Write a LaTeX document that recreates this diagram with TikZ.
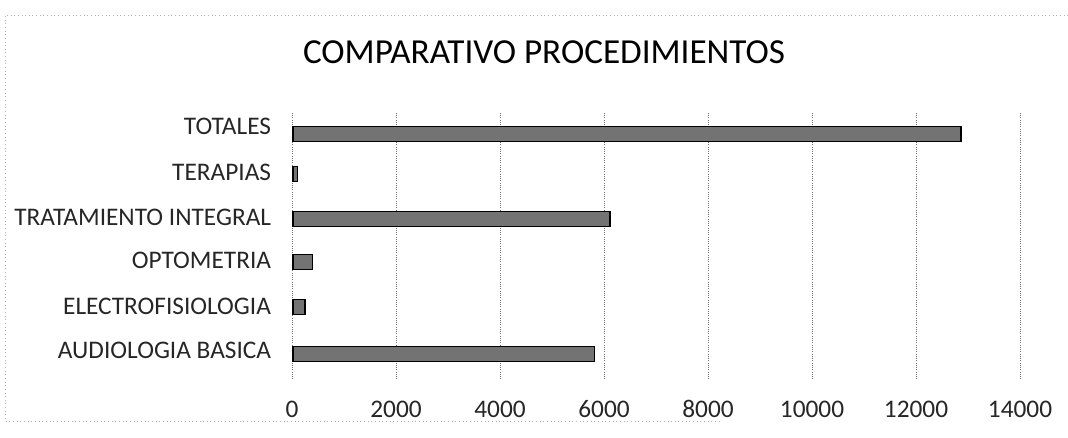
\documentclass[tikz,border=0pt]{standalone}
\usepackage{fontspec}
\setmainfont{Carlito}
\usepackage{xcolor}
\usepackage{tikz}

\tikzset{barra/.style={draw=black,thick,fill=black!55},
  rejilla/.style={black!55,densely dotted,line width=0.6pt},
  marco/.style={gray!60,dotted,line width=0.6pt},
  categoria/.style={anchor=east,font=\fontsize{18}{20}\selectfont,text=black!85},
  marca/.style={font=\fontsize{18}{20}\selectfont,text=black!85}}

\begin{document}
\begin{tikzpicture}[x=0.025cm,y=-0.025cm]
   \useasboundingbox (0,0) rectangle (1068,438);
   % marco punteado del grafico
   \draw[marco] (1068,15) -- (5,15) -- (5,421) -- (720,421);
   \node (titulo) at (544,52) {\fontsize{25}{28}\selectfont COMPARATIVO PROCEDIMIENTOS};
   % lineas de la rejilla y valores del eje
   \foreach \k/\t in {0/0,1/2000,2/4000,3/6000,4/8000,5/10000,6/12000,7/14000}{
     \draw[rejilla] ({292+\k*104},113) -- ({292+\k*104},380);
     \node[marca] (eje\k) at ({292+\k*104},409) {\t};
   }
   % barras por categoria
   \foreach \n/\y/\b/\v/\c in {tot/126/134/12865/TOTALES,ter/172/174/110/TERAPIAS,tra/217/219/6115/TRATAMIENTO INTEGRAL,opt/260/262/390/OPTOMETRIA,ele/306/307/250/ELECTROFISIOLOGIA,aud/350/354/5810/AUDIOLOGIA BASICA}{
     \node[categoria] (cat\n) at (276,\y) {\c};
     \draw[barra] (293,\b-7.5) rectangle ({292+\v*0.052},\b+7.5);
   }
\end{tikzpicture}
\end{document}
